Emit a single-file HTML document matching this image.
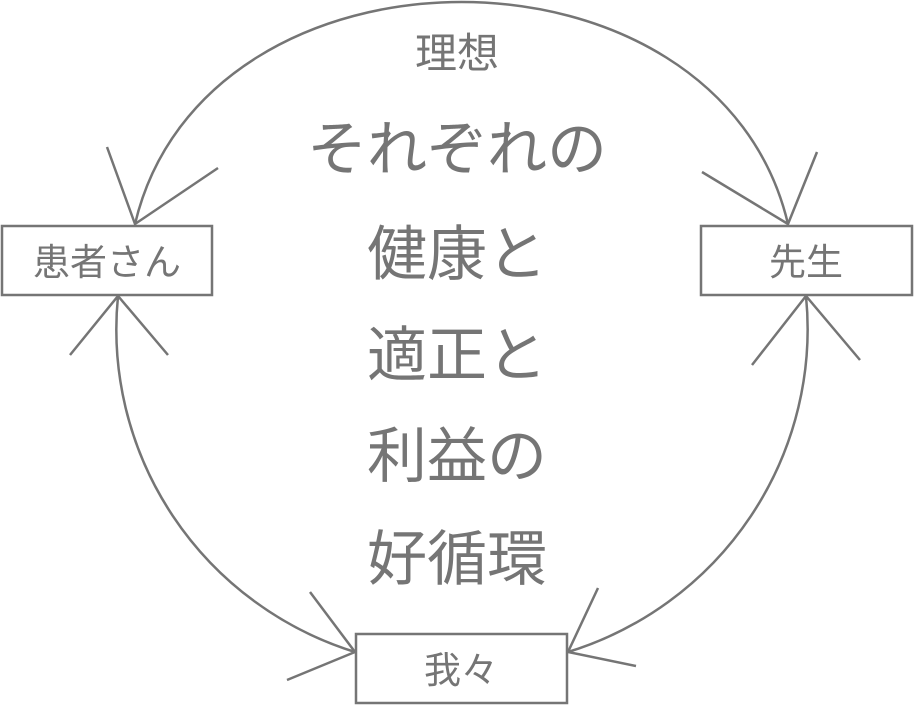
<!DOCTYPE html>
<html><head><meta charset="utf-8"><style>
html,body{margin:0;padding:0;background:#fff;}
svg{display:block;}
text{font-family:"Liberation Sans","Noto Sans CJK JP",sans-serif;fill:#757575;}
</style></head><body>
<svg width="914" height="705" viewBox="0 0 914 705" xmlns="http://www.w3.org/2000/svg">
<g fill="none" stroke="#757575" stroke-width="2.5">
<path d="M135,224 C205,-72 718,-72 788,224"/>
<path d="M118,296 A340,338 0 0 0 355,652"/>
<path d="M806,296 A340,338 0 0 1 568,652"/>
<path d="M107,147 L135,224 L218,168"/>
<path d="M702,172 L788,224 L817,152"/>
<path d="M70,355 L118,296 L168,355"/>
<path d="M310,592 L355,652 L287,680"/>
<path d="M752,365 L806,296 L860,360"/>
<path d="M598,588 L568,652 L636,666"/>
<rect x="2" y="226" width="210" height="69" fill="#fff"/>
<rect x="701" y="226" width="211" height="69" fill="#fff"/>
<rect x="356" y="634" width="211" height="69" fill="#fff"/>
</g>
<g text-anchor="middle">
<text x="457" y="68" font-size="42">理想</text>
<text x="457" y="170" font-size="60">それぞれの</text>
<text x="457" y="275" font-size="60">健康と</text>
<text x="457" y="376" font-size="60">適正と</text>
<text x="457" y="477" font-size="60">利益の</text>
<text x="457" y="580" font-size="60">好循環</text>
<text x="107" y="275" font-size="37">患者さん</text>
<text x="806" y="275" font-size="37">先生</text>
<text x="461" y="683" font-size="37">我々</text>
</g>
</svg>
</body></html>
